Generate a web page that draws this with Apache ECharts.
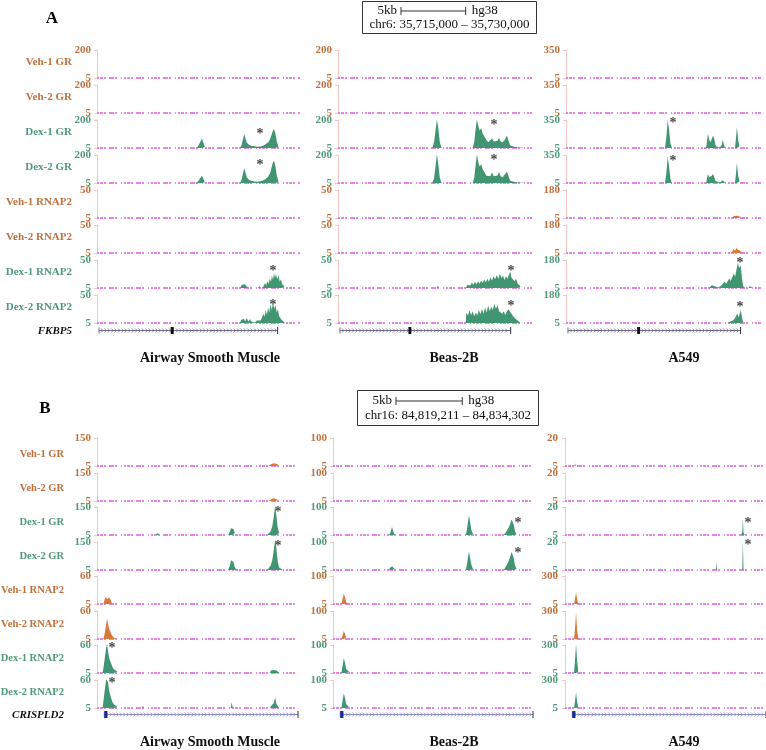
<!DOCTYPE html>
<html><head><meta charset="utf-8">
<script src="https://cdn.jsdelivr.net/npm/echarts@6/dist/echarts.min.js"></script>
<style>html,body{margin:0;padding:0;background:#fff}#c{width:766px;height:750px}</style>
</head><body><div id="c"></div>
<script>
// ---------------- DATA ----------------
const TRACK_NAMES = ['Veh-1 GR','Veh-2 GR','Dex-1 GR','Dex-2 GR','Veh-1 RNAP2','Veh-2 RNAP2','Dex-1 RNAP2','Dex-2 RNAP2'];
const CELL_LINES = ['Airway Smooth Muscle','Beas-2B','A549'];
const PANEL_LETTERS = ['A','B'];
const GENE_NAMES = ['FKBP5','CRISPLD2'];
const REGIONS = ['chr6: 35,715,000 \u2013 35,730,000','chr16: 84,819,211 \u2013 84,834,302'];
const REGION_BP = [15000, 15091];
const SCALE_BP = 5000, SCALE_LABEL = '5kb', ASSEMBLY = 'hg38';

// y-axis maxima (the baseline tick is 5) per column, per track
const A_ASM_MAX  = [200,200,200,200,50,50,50,50];
const A_BEAS_MAX = [200,200,200,200,50,50,50,50];
const A_A549_MAX = [350,350,350,350,180,180,180,180];
const B_ASM_MAX  = [150,150,150,150,60,60,60,60];
const B_BEAS_MAX = [100,100,100,100,100,100,100,100];
const B_A549_MAX = [20,20,20,20,300,300,300,300];

// signal: [position % of window, value]
const A_ASM = [
 [[0,5],[85.8,5],[86.5,9],[87.3,10],[88,8],[88.6,5],[100,5]],
 [[0,5],[86,5],[86.8,8],[87.6,9],[88.3,5],[100,5]],
 [[0,5],[48.8,5],[49.8,18],[50.8,45],[51.7,72],[52.4,40],[53.2,12],[54,5],[70.4,5],[71.2,25],[71.9,65],[72.5,102],[73.1,75],[73.8,42],[74.8,28],[76,20],[77.5,17],[79,13],[80.5,15],[82,22],[83.2,32],[84.4,45],[85.4,72],[86.5,118],[87.2,138],[87.9,105],[88.6,48],[89.4,12],[90.2,5],[100,5]],
 [[0,5],[48.8,5],[49.8,15],[50.8,38],[51.7,58],[52.4,32],[53.2,10],[54,5],[70.4,5],[71.2,28],[71.9,70],[72.5,108],[73.1,80],[73.8,45],[74.8,28],[76,20],[77.5,16],[79,14],[80.5,17],[82,24],[83.2,35],[84.4,50],[85.4,80],[86.5,140],[87.2,162],[87.9,120],[88.6,55],[89.4,14],[90.2,5],[100,5]],
 [[0,5],[100,5]],
 [[0,5],[100,5]],
 [[0,5],[70.6,5],[71.2,10],[72,13],[72.8,11],[73.6,8],[74.4,5],[79.4,5],[79.9,9],[80.4,5],[81.6,5],[82.2,9],[82.8,13],[83.3,9],[83.9,16],[84.5,12],[85.1,20],[85.7,15],[86.2,25],[86.7,18],[87.2,29],[87.7,21],[88.2,27],[88.8,19],[89.4,25],[90,15],[90.6,19],[91.2,11],[91.8,13],[92.4,8],[93,5],[100,5]],
 [[0,5],[70.4,5],[71,10],[71.6,7],[72.3,12],[73,8],[73.8,13],[74.6,7],[75.4,11],[76.2,7],[77,10],[77.8,6],[78.8,9],[79.6,6],[80.6,9],[81.3,14],[81.9,20],[82.5,15],[83.1,26],[83.7,18],[84.3,30],[84.9,22],[85.5,35],[86.1,26],[86.7,38],[87.3,28],[87.9,34],[88.5,22],[89.1,27],[89.7,16],[90.4,19],[91,10],[91.8,12],[92.6,5],[100,5]]
];
const A_BEAS = [
 [[0,5],[100,5]],
 [[0,5],[100,5]],
 [[0,5],[4.5,5],[5.2,16],[6,5],[48.6,5],[49.5,45],[50.3,130],[51,205],[51.7,140],[52.5,45],[53.4,5],[69.4,5],[70.2,45],[70.9,130],[71.6,205],[72.3,160],[73,125],[73.8,145],[74.6,105],[75.5,85],[76.5,60],[77.5,45],[78.5,55],[79.4,72],[80.3,50],[81.3,38],[82.2,55],[83,75],[83.9,48],[85,45],[86,62],[87.1,90],[87.9,55],[88.8,22],[89.8,10],[92,8],[95,7],[97,8],[98,5],[100,5]],
 [[0,5],[4.5,5],[5.2,14],[6,5],[48.6,5],[49.5,40],[50.3,125],[51,205],[51.7,135],[52.5,40],[53.4,5],[69.4,5],[70.2,40],[70.9,125],[71.6,205],[72.3,150],[73,120],[73.8,135],[74.6,100],[75.5,80],[76.5,55],[77.5,42],[78.5,52],[79.4,78],[80.3,52],[81.3,40],[82.2,58],[83,80],[83.9,50],[85,46],[86,65],[87.1,85],[87.9,52],[88.8,20],[89.8,9],[92,8],[95,7],[97,7],[98,5],[100,5]],
 [[0,5],[87.8,5],[88.5,8],[89.2,5],[100,5]],
 [[0,5],[100,5]],
 [[0,5],[51,5],[51.5,9],[52,5],[66,5],[66.6,10],[67.4,13],[68.2,9],[69,14],[69.8,10],[70.6,15],[71.4,11],[72.2,16],[73,12],[73.8,17],[74.6,13],[75.4,19],[76.2,14],[77,20],[77.8,15],[78.6,22],[79.4,17],[80.2,24],[81,19],[81.8,26],[82.6,20],[83.4,28],[84.2,21],[85,25],[85.8,18],[86.6,24],[87.4,20],[88.2,27],[88.8,31],[89.4,22],[90.2,25],[91,16],[91.8,20],[92.6,12],[93.4,15],[94.2,8],[95,5],[100,5]],
 [[0,5],[65.8,5],[66.2,22],[67,17],[67.8,25],[68.6,18],[69.4,24],[70.2,16],[71,22],[71.8,17],[72.6,26],[73.4,19],[74.2,28],[75,20],[75.8,30],[76.6,22],[77.4,33],[78.2,24],[79,31],[79.8,26],[80.6,36],[81.4,28],[82.2,34],[83,24],[83.8,27],[84.6,20],[85.4,24],[86.2,18],[87,23],[87.8,27],[88.6,24],[89.4,20],[90.2,17],[91,13],[91.8,15],[92.6,9],[93.4,10],[94,5],[100,5]]
];
const A_A549 = [
 [[0,5],[100,5]],
 [[0,5],[100,5]],
 [[0,5],[6.5,5],[7.1,14],[7.8,5],[50.5,5],[51.2,140],[51.9,350],[52.6,220],[53.3,60],[54,5],[71.5,5],[72,100],[72.4,185],[73,110],[73.7,75],[74.3,110],[75,160],[75.6,120],[76.3,40],[77.2,15],[78.5,10],[79.5,45],[80,110],[80.6,40],[81.3,8],[82,5],[86.2,5],[86.7,120],[87.2,265],[87.8,110],[88.5,25],[89.3,5],[100,5]],
 [[0,5],[6.5,5],[7.1,12],[7.8,5],[50.5,5],[51.2,130],[51.9,330],[52.6,200],[53.3,55],[54,5],[71.5,5],[72,70],[72.4,115],[73,80],[73.7,60],[74.3,90],[75,115],[75.6,80],[76.3,30],[77.2,12],[78.5,8],[79.5,25],[80,40],[80.6,20],[81.3,5],[86.2,5],[86.7,110],[87.2,255],[87.8,100],[88.5,22],[89.3,5],[100,5]],
 [[0,5],[84.5,5],[85,14],[85.6,18],[86.2,13],[86.8,19],[87.4,15],[88,18],[88.6,14],[89.2,12],[89.8,5],[100,5]],
 [[0,5],[84.8,5],[85.2,30],[85.8,42],[86.4,20],[87,38],[87.6,25],[88.2,35],[88.8,20],[89.4,15],[90,5],[100,5]],
 [[0,5],[73,5],[73.6,12],[74.4,22],[75,30],[75.7,18],[76.5,10],[77.5,7],[78.5,12],[79.3,20],[80.2,30],[81,45],[81.7,30],[82.5,40],[83.3,65],[84,48],[84.8,70],[85.6,95],[86.3,75],[87,120],[87.7,165],[88.3,130],[89.1,145],[89.7,80],[90.3,20],[91,5],[93.2,5],[93.8,18],[94.5,10],[95.2,5],[100,5]],
 [[0,5],[74.5,5],[75,9],[75.5,5],[82.5,5],[83,10],[83.8,14],[84.6,10],[85.4,22],[86.2,35],[86.8,50],[87.4,65],[88,40],[88.6,60],[89.2,85],[89.8,40],[90.4,10],[91,5],[93.3,5],[93.9,14],[94.6,5],[100,5]]
];
const B_ASM = [
 [[0,5],[66,5],[66.7,8],[67.4,5],[85,5],[85.8,10],[86.8,16],[88,19],[89.2,17],[90.2,12],[91,5],[100,5]],
 [[0,5],[66.1,5],[66.7,7],[67.3,5],[85.2,5],[86,12],[87,17],[88,19],[89,16],[90,11],[90.8,5],[100,5]],
 [[0,5],[29,5],[29.6,14],[30.4,16],[31,5],[65.2,5],[66,20],[66.7,40],[67.2,50],[67.8,38],[68.6,15],[69.4,5],[84.8,5],[85.6,12],[86.4,25],[87.2,50],[87.9,95],[88.6,152],[89.2,110],[89.9,45],[90.6,15],[91.4,5],[100,5]],
 [[0,5],[29,5],[29.6,11],[30.4,12],[31,5],[65.2,5],[66,25],[66.7,55],[67.2,65],[67.8,48],[68.6,18],[69.4,5],[84.8,5],[85.6,14],[86.4,28],[87.2,55],[87.9,105],[88.6,160],[89.2,120],[89.9,50],[90.6,18],[91.4,8],[92.5,5],[100,5]],
 [[0,5],[3.2,5],[3.8,14],[4.4,19],[5,15],[5.6,17],[6.2,18],[6.9,12],[7.5,5],[100,5]],
 [[0,5],[3.2,5],[3.8,15],[4.4,30],[5,45],[5.5,35],[6,25],[6.6,20],[7.2,14],[7.8,10],[8.6,8],[9.2,5],[100,5]],
 [[0,5],[2.8,5],[3.4,20],[4,38],[4.6,55],[5,62],[5.5,48],[6,35],[6.6,28],[7.2,22],[7.8,16],[8.5,12],[9.2,10],[10.1,8],[10.8,5],[14,5],[14.5,7],[15,5],[22,5],[22.5,6],[23,5],[44,5],[44.5,6],[45,5],[62,5],[62.4,8],[62.9,5],[66.5,5],[67,7],[67.5,5],[86,5],[86.5,10],[87.2,9],[87.9,11],[88.6,9],[89.3,10],[90,8],[90.8,5],[100,5]],
 [[0,5],[2.8,5],[3.4,25],[4,45],[4.6,62],[5,65],[5.5,55],[6,40],[6.6,30],[7.2,22],[7.8,16],[8.5,12],[9.2,10],[10.1,8],[10.8,5],[22.3,5],[22.8,9],[23.3,5],[66.5,5],[67,16],[67.6,5],[80,5],[80.5,8],[81,5],[86,5],[86.6,9],[87.4,11],[88,15],[88.6,26],[89.2,14],[89.9,9],[90.6,5],[100,5]]
];
const B_BEAS = [
 [[0,5],[67.5,5],[68,9],[68.8,8],[69.4,5],[88,5],[88.6,9],[89.3,11],[90,5],[100,5]],
 [[0,5],[67.5,5],[68,7],[68.8,6],[69.4,5],[88,5],[88.6,7],[89.3,8],[90,5],[100,5]],
 [[0,5],[28,5],[28.8,15],[29.5,32],[30.2,15],[31,5],[66.4,5],[67,25],[67.6,55],[68,72],[68.5,50],[69.2,22],[70,8],[70.8,5],[85.4,5],[86.2,12],[87,20],[87.8,30],[88.6,42],[89.3,58],[89.8,64],[90.4,40],[91,18],[91.8,7],[92.6,5],[100,5]],
 [[0,5],[28,5],[28.5,13],[29,10],[29.6,18],[30.2,22],[30.8,8],[31.3,5],[47.2,5],[47.6,9],[48,5],[66.4,5],[67,25],[67.6,52],[68,68],[68.5,48],[69.2,22],[70,8],[70.8,5],[85.4,5],[86.2,14],[87,24],[87.8,35],[88.6,50],[89.3,66],[89.8,72],[90.4,45],[91,20],[91.8,8],[92.6,5],[100,5]],
 [[0,5],[4.2,5],[4.8,22],[5.4,40],[6,28],[6.6,12],[7.3,5],[100,5]],
 [[0,5],[4.2,5],[4.8,18],[5.4,32],[6,22],[6.6,10],[7.3,5],[100,5]],
 [[0,5],[4.2,5],[4.8,30],[5.4,55],[6,40],[6.6,18],[7.3,12],[8,10],[8.6,5],[65.6,5],[66,7],[66.4,5],[89,5],[89.5,7],[90,7],[90.5,5],[100,5]],
 [[0,5],[4.2,5],[4.8,30],[5.4,55],[6,38],[6.6,18],[7.3,12],[8,8],[8.6,5],[100,5]]
];
const B_A549 = [
 [[0,5],[4.6,5],[5,6.5],[5.4,5],[100,5]],
 [[0,5],[100,5]],
 [[0,5],[87.6,5],[88.2,6.5],[88.5,14],[88.8,6.5],[89.4,5],[100,5]],
 [[0,5],[75,5],[75.3,9],[75.6,5],[88.2,5],[88.5,21],[88.8,5],[100,5]],
 [[0,5],[4.5,5],[5,60],[5.5,130],[6,60],[6.6,5],[100,5]],
 [[0,5],[4.5,5],[5,120],[5.5,280],[6,110],[6.6,5],[100,5]],
 [[0,5],[4.5,5],[5,150],[5.5,310],[6,140],[6.6,20],[7.2,5],[100,5]],
 [[0,5],[4.5,5],[5,80],[5.5,170],[6,70],[6.6,12],[7.2,5],[100,5]]
];

// asterisks: [track index, position %, value]
const A_ASM_STARS  = [[2,80.3,119],[3,80.3,146],[6,86.7,36],[7,86.7,38]];
const A_BEAS_STARS = [[2,80.4,180],[3,80.4,180],[6,89.2,36],[7,89.2,36]];
const A_A549_STARS = [[2,54.6,350],[3,54.6,314],[6,88.8,180],[7,88.8,120]];
const B_ASM_STARS  = [[2,90,140],[3,90,144],[6,7.5,59],[7,7.5,60]];
const B_BEAS_STARS = [[2,92.5,56],[3,92.5,72]];
const B_A549_STARS = [[2,91,13],[3,91,20]];

// gene models: [start %, end %, exon start %, exon end %]
const GENE_A = [1, 89, 36.3, 37.8];
const GENE_B = [3.6, 100, 3.6, 5.2];

// ---------------- LAYOUT / STYLE ----------------
const VEH_TXT = '#c0703c', VEH_FILL = '#d9793a';
const DEX_TXT = '#4f9a78', DEX_FILL = '#3f9670';
const AXIS_C = '#f4c8c1', MAGENTA = '#e05ae0';
const SERIF = '"Liberation Serif","Times New Roman",serif';
const BASE = 5;

const PANELS = [
 { data:[A_ASM,A_BEAS,A_A549], max:[A_ASM_MAX,A_BEAS_MAX,A_A549_MAX], stars:[A_ASM_STARS,A_BEAS_STARS,A_A549_STARS],
   gene:GENE_A, geneName:GENE_NAMES[0], region:REGIONS[0], bp:REGION_BP[0],
   top0:50, step:35, h:28, labelX:72, labelY0:62, labelStep:35, labelFont:11,
   cols:[{l:97,w:203,off:1},{l:338,w:194,off:1},{l:566,w:196,off:1}],
   geneY:330, geneLabelX:72, titleY:358, titleX:[210,454,684],
   letter:[52,19], box:{x:362,y:1,w:174,h:32, t1x:397, t1y:11, t2y:25}, geneColor:'#6e6e8c', exonColor:'#111' },
 { data:[B_ASM,B_BEAS,B_A549], max:[B_ASM_MAX,B_BEAS_MAX,B_A549_MAX], stars:[B_ASM_STARS,B_BEAS_STARS,B_A549_STARS],
   gene:GENE_B, geneName:GENE_NAMES[1], region:REGIONS[1], bp:REGION_BP[1],
   top0:438, step:34.55, h:28, labelX:64, labelY0:454, labelStep:34, labelFont:10.5,
   cols:[{l:97,w:201,off:1},{l:333,w:200,off:1},{l:565,w:201,off:2}],
   geneY:714, geneLabelX:64, titleY:742, titleX:[210,454,684],
   letter:[45,409], box:{x:357,y:390,w:181,h:35, t1x:392, t1y:401, t2y:416}, geneColor:'#8c8cc8', exonColor:'#1c2a8c' }
];

// break the area wherever two consecutive points sit on the baseline (no zero-height slivers)
function splitFlat(d){
  const out = [];
  for (let i = 0; i < d.length; i++) {
    out.push(d[i]);
    if (i < d.length-1 && d[i][1] <= BASE && d[i+1][1] <= BASE) out.push([(d[i][0]+d[i+1][0])/2, '-']);
  }
  return out;
}

const grid=[], xAxis=[], yAxis=[], series=[], graphic=[];
function addGrid(l,t,w,h){ grid.push({left:l, top:t, width:w, height:h}); return grid.length-1; }

function geneRenderer(lineColor, exonColor){
  return function(params, api){
    const s = api.coord([api.value(0),0]), e = api.coord([api.value(1),0]);
    const xs = api.coord([api.value(2),0])[0], xe = api.coord([api.value(3),0])[0];
    const y = Math.round(s[1]) + 0.5;
    const ch = [{type:'line', shape:{x1:s[0],y1:y,x2:e[0],y2:y}, style:{stroke:lineColor, lineWidth:1}}];
    for (let x = s[0]+3; x < e[0]-2; x += 3.4) {
      ch.push({type:'polyline', shape:{points:[[x-1,y-2],[x+1,y],[x-1,y+2]]}, style:{stroke:lineColor, lineWidth:0.8, fill:null}});
    }
    ch.push({type:'line', shape:{x1:s[0],y1:y-3,x2:s[0],y2:y+3}, style:{stroke:lineColor, lineWidth:1}});
    ch.push({type:'line', shape:{x1:e[0],y1:y-3.5,x2:e[0],y2:y+3.5}, style:{stroke:'#333', lineWidth:1}});
    ch.push({type:'rect', shape:{x:xs, y:y-3.5, width:Math.max(2.5, xe-xs), height:7}, style:{fill:exonColor}});
    return {type:'group', children:ch};
  };
}

PANELS.forEach((P, pi) => {
  P.cols.forEach((C, ci) => {
    for (let t = 0; t < 8; t++) {
      const veh = (t % 4) < 2;
      const mx = P.max[ci][t];
      const fill = veh ? VEH_FILL : DEX_FILL;
      const gi = addGrid(C.l, Math.round(P.top0 + P.step*t), C.w, P.h);
      xAxis.push({type:'value', gridIndex:gi, min:0, max:100, show:false});
      yAxis.push({type:'value', gridIndex:gi, min:BASE, max:mx, position:'left', offset:C.off,
        axisLine:{show:true, lineStyle:{color:AXIS_C, width:1}},
        axisTick:{show:true, length:3, lineStyle:{color:AXIS_C}, customValues:[BASE,mx]},
        axisLabel:{show:true, customValues:[BASE,mx], margin:5, color: veh?VEH_TXT:DEX_TXT,
          fontFamily:SERIF, fontWeight:'bold', fontSize:11},
        splitLine:{show:false}});
      const stars = P.stars[ci].filter(s => s[0] === t).map(s => ({coord:[s[1], s[2]]}));
      series.push({type:'line', xAxisIndex:gi, yAxisIndex:gi, data:[[0,BASE],[100,BASE]], symbol:'none', silent:true, clip:false, z:1,
        lineStyle:{color:MAGENTA, width:1.6, type:[2,1,3,1,2,3,5,1,2,4,1,2]},
        markPoint: stars.length ? {symbol:'circle', symbolSize:1, itemStyle:{color:'rgba(0,0,0,0)'},
          label:{show:true, formatter:'*', color:'#444', fontSize:14, fontWeight:'bold', fontFamily:SERIF, offset:[0,3]},
          data:stars} : undefined});
      series.push({type:'line', xAxisIndex:gi, yAxisIndex:gi, data:splitFlat(P.data[ci][t]), symbol:'none', silent:true, z:2,
        connectNulls:false, lineStyle:{width:0, color:fill, opacity:0}, areaStyle:{color:fill, opacity:1, origin:'start'}});
    }
    // gene track
    const gg = addGrid(C.l, P.geneY - 5, C.w, 10);
    xAxis.push({type:'value', gridIndex:gg, min:0, max:100, show:false});
    yAxis.push({type:'value', gridIndex:gg, min:-1, max:1, show:false});
    series.push({type:'custom', xAxisIndex:gg, yAxisIndex:gg, silent:true, clip:false,
      renderItem: geneRenderer(P.geneColor, P.exonColor), data:[P.gene]});
    // column title
    graphic.push({type:'text', x:P.titleX[ci], y:P.titleY, style:{text:CELL_LINES[ci], align:'center', verticalAlign:'middle',
      fill:'#111', fontFamily:SERIF, fontWeight:'bold', fontSize:14}});
  });
  // track labels
  TRACK_NAMES.forEach((nm, t) => {
    const veh = (t % 4) < 2;
    graphic.push({type:'text', x:P.labelX, y:P.labelY0 + P.labelStep*t, style:{text:nm, align:'right', verticalAlign:'middle',
      fill: veh?VEH_TXT:DEX_TXT, fontFamily:SERIF, fontWeight:'bold', fontSize:P.labelFont}});
  });
  graphic.push({type:'text', x:P.geneLabelX, y:P.geneY+1, style:{text:P.geneName, align:'right', verticalAlign:'middle',
    fill:'#111', fontFamily:SERIF, fontWeight:'bold', fontStyle:'italic', fontSize:11}});
  // panel letter
  graphic.push({type:'text', x:P.letter[0], y:P.letter[1], style:{text:PANEL_LETTERS[pi], align:'center', verticalAlign:'middle',
    fill:'#000', fontFamily:SERIF, fontWeight:'bold', fontSize:17}});
  // scale box
  const B = P.box;
  const barLen = SCALE_BP / P.bp * P.cols[1].w;
  const bx0 = B.t1x + 4, bx1 = bx0 + barLen;
  graphic.push({type:'rect', shape:{x:B.x+0.5, y:B.y+0.5, width:B.w, height:B.h}, style:{fill:'#fff', stroke:'#333', lineWidth:1}});
  graphic.push({type:'text', x:B.t1x, y:B.t1y, style:{text:SCALE_LABEL, align:'right', verticalAlign:'middle', fill:'#111', fontFamily:SERIF, fontSize:13}});
  graphic.push({type:'line', shape:{x1:bx0,y1:B.t1y,x2:bx1,y2:B.t1y}, style:{stroke:'#333', lineWidth:1}});
  graphic.push({type:'line', shape:{x1:bx0,y1:B.t1y-4,x2:bx0,y2:B.t1y+4}, style:{stroke:'#333', lineWidth:1}});
  graphic.push({type:'line', shape:{x1:bx1,y1:B.t1y-4,x2:bx1,y2:B.t1y+4}, style:{stroke:'#333', lineWidth:1}});
  graphic.push({type:'text', x:bx1+6, y:B.t1y, style:{text:ASSEMBLY, align:'left', verticalAlign:'middle', fill:'#111', fontFamily:SERIF, fontSize:13}});
  graphic.push({type:'text', x:B.x + B.w/2 + 0.5, y:B.t2y, style:{text:P.region, align:'center', verticalAlign:'middle', fill:'#111', fontFamily:SERIF, fontSize:13}});
});

const chart = echarts.init(document.getElementById('c'), null, {renderer:'canvas'});
chart.setOption({animation:false, backgroundColor:'#fff', grid, xAxis, yAxis, series, graphic});
</script>
</body></html>
